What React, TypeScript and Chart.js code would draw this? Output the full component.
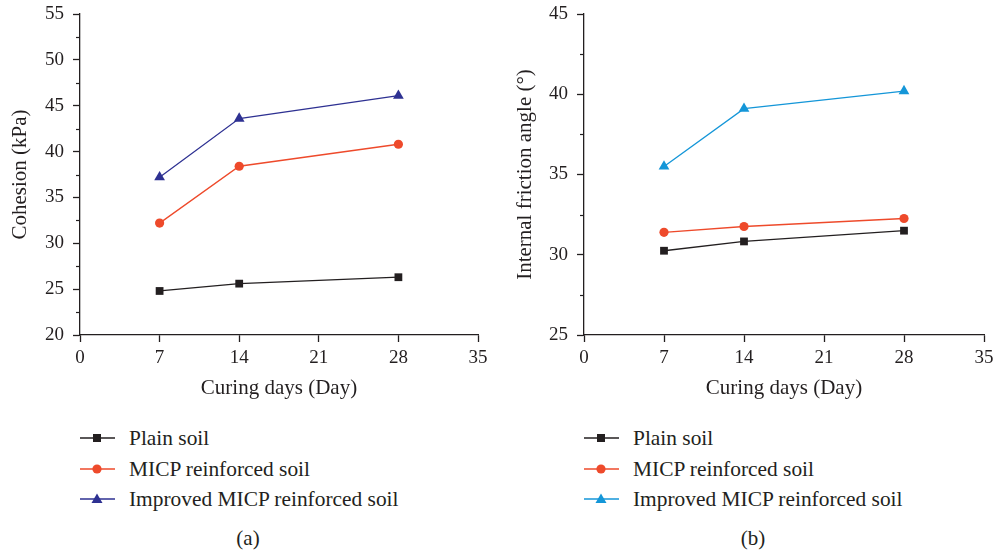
import React, { useEffect, useRef } from "react";
import { Chart, registerables } from "chart.js";

Chart.register(...registerables);

const days = [7, 14, 28];
const cohesionPlain = [24.8, 25.6, 26.3];
const cohesionMicp = [32.2, 38.4, 40.8];
const cohesionImproved = [37.2, 43.6, 46.1];
const frictionPlain = [30.25, 30.83, 31.5];
const frictionMicp = [31.4, 31.76, 32.26];
const frictionImproved = [35.5, 39.1, 40.2];
const seriesNames = ["Plain soil", "MICP reinforced soil", "Improved MICP reinforced soil"];

const INK = "#231f20";
const RED = "#ee4a2b";
const NAVY = "#2e3192";
const CYAN = "#1496d8";
const FONT = "'Liberation Serif', 'Times New Roman', serif";

const pts = (vals: number[]) => days.map((d, i) => ({ x: d, y: vals[i] }));

const minorTicks = {
  id: "minorTicks",
  afterDraw(chart: any) {
    const ys = chart.scales.y;
    const ctx = chart.ctx;
    ctx.save();
    ctx.strokeStyle = INK;
    ctx.lineWidth = 1.2;
    for (let v = ys.min + 2.5; v < ys.max; v += 5) {
      const py = Math.round(ys.getPixelForValue(v)) + 0.5;
      ctx.beginPath();
      ctx.moveTo(chart.chartArea.left, py);
      ctx.lineTo(chart.chartArea.left - 4, py);
      ctx.stroke();
    }
    ctx.restore();
  },
};

function makeConfig(
  series: number[][],
  colors: string[],
  yMin: number,
  yMax: number,
  yTitle: string,
  yAxisWidth: number,
  yTitlePad: number,
  rightPad: number
): any {
  const styles = ["rect", "circle", "triangle"];
  const radii = [5.5, 4.6, 6.2];
  return {
    type: "line",
    data: {
      datasets: series.map((s, i) => ({
        label: seriesNames[i],
        data: pts(s),
        borderColor: colors[i],
        backgroundColor: colors[i],
        borderWidth: 1.3,
        pointStyle: styles[i],
        pointRadius: radii[i],
        pointBorderWidth: 0,
        pointBackgroundColor: colors[i],
        tension: 0,
      })),
    },
    options: {
      animation: false,
      responsive: false,
      maintainAspectRatio: false,
      layout: { padding: { top: 14, right: rightPad, left: 0, bottom: 0 } },
      plugins: { legend: { display: false }, tooltip: { enabled: false } },
      scales: {
        x: {
          type: "linear",
          min: 0,
          max: 35,
          border: { display: true, color: INK, width: 1.3 },
          grid: { display: true, drawOnChartArea: false, drawTicks: true, tickLength: 7, tickColor: INK, tickWidth: 1.3 },
          ticks: { stepSize: 7, color: INK, padding: 5, font: { family: FONT, size: 19 } },
          title: { display: true, text: "Curing days (Day)", color: INK, font: { family: FONT, size: 21 }, padding: { top: 0, bottom: -1 } },
          afterFit: (s: any) => {
            s.height = 65;
            s.paddingLeft = 0;
            s.paddingRight = 0;
          },
        },
        y: {
          type: "linear",
          min: yMin,
          max: yMax,
          border: { display: true, color: INK, width: 1.3 },
          grid: { display: true, drawOnChartArea: false, drawTicks: true, tickLength: 7, tickColor: INK, tickWidth: 1.3 },
          ticks: { stepSize: 5, color: INK, padding: 9, font: { family: FONT, size: 19 } },
          title: { display: true, text: yTitle, color: INK, font: { family: FONT, size: 21 }, padding: { top: yTitlePad, bottom: 0 } },
          afterFit: (s: any) => {
            s.width = yAxisWidth;
            s.paddingTop = 0;
            s.paddingBottom = 0;
          },
        },
      },
    },
    plugins: [minorTicks],
  };
}

function Panel(props: { config: any; left: number }) {
  const ref = useRef<HTMLCanvasElement>(null);
  useEffect(() => {
    const c = new Chart(ref.current as HTMLCanvasElement, props.config);
    return () => c.destroy();
  }, []);
  return (
    <canvas
      ref={ref}
      width={497}
      height={400}
      style={{ position: "absolute", left: props.left, top: 0, width: 497, height: 400 }}
    />
  );
}

function Marker({ kind, color }: { kind: number; color: string }) {
  if (kind === 0) return <rect x={13} y={3} width={8} height={8} fill={color} />;
  if (kind === 1) return <circle cx={17} cy={7} r={4.6} fill={color} />;
  return <polygon points="17,1.5 22.5,11 11.5,11" fill={color} />;
}

function Legend(props: { left: number; colors: string[]; caption: string; captionX: number }) {
  const rows = [438, 469, 499];
  return (
    <>
      {seriesNames.map((n, i) => (
        <div key={n} style={{ position: "absolute", left: props.left, top: rows[i] - 12, height: 24, display: "flex", alignItems: "center" }}>
          <svg width={35} height={14} style={{ marginRight: 14 }}>
            <line x1={0} y1={7} x2={35} y2={7} stroke={props.colors[i]} strokeWidth={1.4} />
            <Marker kind={i} color={props.colors[i]} />
          </svg>
          <span style={{ fontFamily: FONT, fontSize: 21.4, color: INK, whiteSpace: "nowrap", lineHeight: "24px" }}>{n}</span>
        </div>
      ))}
      <div
        style={{
          position: "absolute",
          left: props.captionX - 40,
          width: 80,
          top: 526,
          textAlign: "center",
          fontFamily: FONT,
          fontSize: 21,
          color: INK,
          lineHeight: "24px",
        }}
      >
        {props.caption}
      </div>
    </>
  );
}

export default function App() {
  const colorsA = [INK, RED, NAVY];
  const colorsB = [INK, RED, CYAN];
  const cfgA = makeConfig([cohesionPlain, cohesionMicp, cohesionImproved], colorsA, 20, 55, "Cohesion (kPa)", 80, 8, 19);
  const cfgB = makeConfig([frictionPlain, frictionMicp, frictionImproved], colorsB, 25, 45, "Internal friction angle (°)", 87, 16, 10);
  return (
    <div style={{ position: "fixed", left: 0, top: 0, width: 994, height: 554, background: "#fff", overflow: "hidden" }}>
      <Panel config={cfgA} left={0} />
      <Panel config={cfgB} left={497} />
      <Legend left={80} colors={colorsA} caption="(a)" captionX={248} />
      <Legend left={584} colors={colorsB} caption="(b)" captionX={753} />
    </div>
  );
}
